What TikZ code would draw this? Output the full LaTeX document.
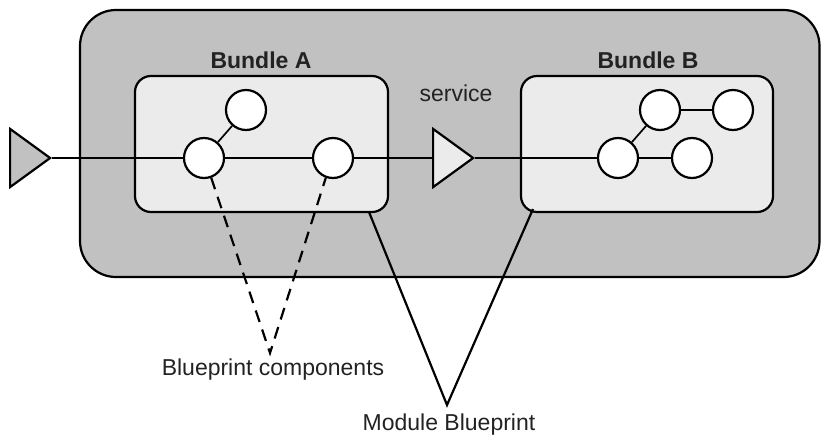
\documentclass[tikz,border=0pt]{standalone}
\usepackage{fontspec}
\setmainfont{Liberation Sans}
\usetikzlibrary{shapes.geometric}
\definecolor{outerfill}{HTML}{C1C1C1}
\definecolor{innerfill}{HTML}{EBEBEB}
\definecolor{txt}{HTML}{222222}
\begin{document}
\begin{tikzpicture}[x=1pt,y=-1pt,
  outerbox/.style={draw=black,line width=2.2pt,fill=outerfill,rounded corners=36pt},
  bundlebox/.style={draw=black,line width=2.2pt,fill=innerfill,rounded corners=16pt},
  comp/.style={circle,draw=black,line width=2.2pt,fill=white,minimum size=40pt,inner sep=0pt},
  wire/.style={draw=black,line width=1.7pt},
  tri/.style={isosceles triangle,isosceles triangle apex angle=72,draw=black,line width=2.2pt,minimum height=40pt,inner sep=0pt,anchor=apex},
  lbl/.style={text=txt,font=\fontsize{23}{27}\selectfont,inner sep=0pt},
  blbl/.style={text=txt,font=\fontsize{23}{27}\selectfont\bfseries,inner sep=0pt},
  pointer/.style={draw=black,line width=2.2pt},
  dpointer/.style={draw=black,line width=2.2pt,dash pattern=on 12pt off 8pt}]
\useasboundingbox (0,0) rectangle (821,437);
\draw[outerbox] (80,10) rectangle (819.5,277);
\draw[bundlebox] (135,76) rectangle (388,212);
\draw[bundlebox] (521,76) rectangle (773,212);
\node[blbl] (la) at (261,60) {Bundle A};
\node[blbl] (lb) at (648,60) {Bundle B};
\node[lbl] (ls) at (456,93) {service};
% triangles
\node[tri,fill=outerfill] (tin) at (52,158) {};
\node[tri,fill=innerfill] (tsv) at (475,158) {};
% components A
\node[comp] (a1) at (204,158) {};
\node[comp] (a2) at (246,110) {};
\node[comp] (a3) at (333,158) {};
% components B
\node[comp] (b1) at (618,158) {};
\node[comp] (b2) at (660,110) {};
\node[comp] (b3) at (733,110) {};
\node[comp] (b4) at (692,158) {};
% wires
\draw[wire] (tin.apex) -- (a1);
\draw[wire] (a1) -- (a2);
\draw[wire] (a1) -- (a3);
\draw[wire] (a3) -- (tsv.west |- a3);
\draw[wire] (tsv.apex) -- (b1);
\draw[wire] (b1) -- (b2);
\draw[wire] (b2) -- (b3);
\draw[wire] (b1) -- (b4);
% labels below
\node[lbl] (bc) at (273,370) {Blueprint components};
\node[lbl] (mb) at (449,425) {Module Blueprint};
\coordinate (vc) at (270,353);
\coordinate (vm) at (447,405);
\coordinate (ea) at (369,212);
\coordinate (eb) at (533,209);
\draw[dpointer] (a1.290) -- (vc) -- (a3.250);
\draw[pointer,line join=miter] (ea) -- (vm) -- (eb);
\end{tikzpicture}
\end{document}
